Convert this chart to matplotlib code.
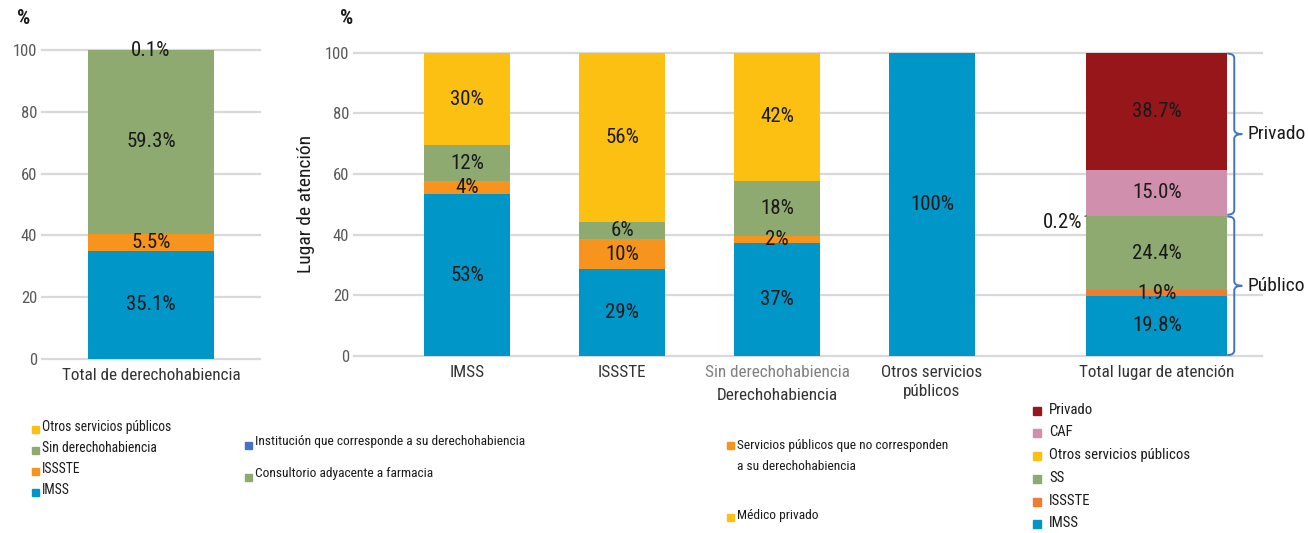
import matplotlib
matplotlib.use("Agg")
import matplotlib.pyplot as plt
from matplotlib import font_manager
from matplotlib.path import Path
from matplotlib.patches import PathPatch, Rectangle

# ---------------- data ----------------
left_category = "Total de derechohabiencia"
left_series = ["IMSS", "ISSSTE", "Sin derechohabiencia", "Otros servicios públicos"]
left_values = [35.1, 5.5, 59.3, 0.1]

mid_categories = ["IMSS", "ISSSTE", "Sin derechohabiencia", "Otros servicios\npúblicos"]
mid_series = ["Institución que corresponde a su derechohabiencia",
              "Servicios públicos que no corresponden\na su derechohabiencia",
              "Consultorio adyacente a farmacia",
              "Médico privado"]
inst_values = [53.3, 28.6, 37.4, 100.0]
serv_values = [4.4, 9.9, 2.2, 0.0]
cons_values = [11.8, 5.6, 18.1, 0.0]
med_values = [30.4, 55.9, 42.3, 0.0]
mid_xtitle = "Derechohabiencia"

total_category = "Total lugar de atención"
total_series = ["IMSS", "ISSSTE", "SS", "Otros servicios públicos", "CAF", "Privado"]
total_values = [19.8, 1.9, 24.4, 0.2, 15.0, 38.7]
groups = ["Público", "Privado"]
group_sizes = [4, 2]   # number of series (from bottom) in each group

# ---------------- style ----------------
BLUE = "#0096C8"
ORANGE = "#F7941D"
GREEN = "#8EAA70"
YELLOW = "#FCC012"
DARKRED = "#96161A"
PINK = "#D18FAE"
ORANGE2 = "#ED7D31"
LEGBLUE = "#4472C4"

left_colors = [BLUE, ORANGE, GREEN, YELLOW]
mid_colors = [BLUE, ORANGE, GREEN, YELLOW]
mid_legend_colors = [LEGBLUE, ORANGE, GREEN, YELLOW]
total_colors = [BLUE, ORANGE2, GREEN, YELLOW, PINK, DARKRED]

avail = {f.name for f in font_manager.fontManager.ttflist}
scale = 1.0
FONT = None
for cand in ["Roboto Condensed", "Liberation Sans Narrow", "Open Sans Condensed"]:
    if cand in avail:
        FONT = cand
        break
if FONT is None:
    FONT = "Liberation Sans"
    scale = 0.82
plt.rcParams["font.family"] = [FONT, "DejaVu Sans"]

def fs(x):
    return x * scale

TXT = "#1a1a1a"
W, H = 1308, 533
fig = plt.figure(figsize=(W / 100, H / 100), dpi=100)


def rect(l, t, r, b):
    return [l / W, 1 - b / H, (r - l) / W, (b - t) / H]


def style(ax):
    for s in ax.spines.values():
        s.set_visible(False)
    ax.set_ylim(0, 100)
    ax.set_yticks(range(0, 101, 20))
    ax.yaxis.grid(True, color="#D9D9D9", lw=1.6)
    ax.set_axisbelow(True)
    for gl in ax.get_ygridlines():
        gl.set_clip_on(False)
    ax.tick_params(axis="y", length=0, pad=3.6, labelsize=fs(12), labelcolor="#595959")
    ax.tick_params(axis="x", length=0, pad=6.5, labelsize=fs(12.3), labelcolor="#333333")


# ---------------- left panel ----------------
axL = fig.add_axes(rect(42, 50, 260, 359))
style(axL)
axL.set_xlim(-0.5, 0.5)
bottom = 0.0
for name, val, col in zip(left_series, left_values, left_colors):
    axL.bar(0, val, width=0.578, bottom=bottom, color=col, label=name)
    axL.text(0, bottom + val / 2, f"{val:.1f}%", ha="center", va="center",
             fontsize=fs(15), color=TXT)
    bottom += val
axL.set_xticks([0])
axL.set_xticklabels([left_category])

# ---------------- middle + right panel ----------------
axM = fig.add_axes(rect(354, 52.7, 1262, 356))
style(axM)
unit = 155.0
axM.set_xlim(-(467 - 354) / unit, (1262 - 467) / unit)
mid_pos = [0, 1, 2, 3]
total_pos = 4.45
bw = 86 / unit
tw = 141 / unit

bottoms = [0.0] * len(mid_pos)
for name, vals, col in zip(mid_series, [inst_values, serv_values, cons_values, med_values], mid_colors):
    axM.bar(mid_pos, vals, width=bw, bottom=bottoms, color=col, label=name)
    for x, b, v in zip(mid_pos, bottoms, vals):
        if v > 0:
            axM.text(x, b + v / 2, f"{v:.0f}%", ha="center", va="center",
                     fontsize=fs(15), color=TXT)
    bottoms = [b + v for b, v in zip(bottoms, vals)]

bottom = 0.0
for name, val, col in zip(total_series, total_values, total_colors):
    axM.bar(total_pos, val, width=tw, bottom=bottom, color=col, label=name)
    if val >= 1:
        axM.text(total_pos, bottom + val / 2, f"{val:.1f}%", ha="center", va="center",
                 fontsize=fs(15), color=TXT)
    else:
        axM.annotate(f"{val:.1f}%", xy=(total_pos - tw / 2, bottom + val / 2),
                     xytext=(-3, -5), textcoords="offset points", ha="right", va="center",
                     fontsize=fs(15), color=TXT,
                     arrowprops=dict(arrowstyle="-", color="#404040", lw=0.8,
                                     shrinkA=0, shrinkB=0))
    bottom += val

axM.set_xticks(mid_pos + [total_pos])
axM.set_xticklabels(mid_categories + [total_category], linespacing=1.35)
axM.get_xticklabels()[2].set_color("#808080")
axM.annotate(mid_xtitle, xy=(2, 0), xycoords=("data", "axes fraction"),
             xytext=(0, -23), textcoords="offset points", ha="center", va="top",
             fontsize=fs(12.3), color="#333333")
axM.set_ylabel("Lugar de atención", fontsize=fs(14), color=TXT, labelpad=7)

# braces for Público / Privado
px = (axM.get_xlim()[1] - axM.get_xlim()[0]) / 908.0
x0 = total_pos + tw / 2
x1 = x0 + 7 * px
x2 = x0 + 15 * px
hc = 1.5
start = 0.0
for gname, gsize, i0 in zip(groups, group_sizes, [0, group_sizes[0]]):
    end = start + sum(total_values[i0:i0 + gsize])
    ya, yb = start + 0.3, end - 0.3
    ym = (ya + yb) / 2
    verts = [(x0, ya), (x1, ya), (x1, ya + hc), (x1, ym - hc), (x1, ym), (x2, ym),
             (x2, ym), (x1, ym), (x1, ym + hc), (x1, yb - hc), (x1, yb), (x0, yb)]
    codes = [Path.MOVETO, Path.CURVE3, Path.CURVE3, Path.LINETO, Path.CURVE3, Path.CURVE3,
             Path.MOVETO, Path.CURVE3, Path.CURVE3, Path.LINETO, Path.CURVE3, Path.CURVE3]
    axM.add_patch(PathPatch(Path(verts, codes), fill=False, edgecolor=LEGBLUE, lw=1.4,
                            clip_on=False))
    axM.annotate(gname, xy=(x2, ym), xytext=(4, 0), textcoords="offset points",
                 ha="left", va="center", fontsize=fs(14), color=TXT)
    start = end

# "%" headers
fig.text(17 / W, 1 - 19 / H, "%", fontsize=fs(15), fontweight="bold", ha="left", va="center", color=TXT)
fig.text(340 / W, 1 - 19 / H, "%", fontsize=fs(15), fontweight="bold", ha="left", va="center", color=TXT)


# ---------------- legends (manual) ----------------
def legend_item(xm, ym, size, color, label, xt, yt, fsz):
    fig.patches.append(Rectangle((xm / W, 1 - (ym + size / 2) / H), size / W, size / H,
                                 transform=fig.transFigure, color=color))
    fig.text(xt / W, 1 - yt / H, label, fontsize=fs(fsz), color=TXT, ha="left", va="center",
             linespacing=1.75)


# left legend (reverse order of stack)
left_rows = [429, 450, 471, 492]
for (name, col), y in zip(list(zip(left_series, left_colors))[::-1], left_rows):
    legend_item(32, y, 7, col, name, 42, y - 2, 9.8)

# middle legend: two columns
legend_item(245, 445, 7, mid_legend_colors[0], mid_series[0], 255, 442, 9.6)
legend_item(245, 477, 7, mid_legend_colors[2], mid_series[2], 255, 474, 9.6)
legend_item(727, 445, 7, mid_legend_colors[1], mid_series[1], 737, 456, 9.6)
legend_item(727, 517, 7, mid_legend_colors[3], mid_series[3], 737, 515, 9.6)

# right legend
right_rows = [411, 433, 456, 479, 502, 524]
for (name, col), y in zip(list(zip(total_series, total_colors))[::-1], right_rows):
    legend_item(1033, y, 8, col, name, 1049, y - 1, 10.6)

fig.savefig("out.png", dpi=100)
